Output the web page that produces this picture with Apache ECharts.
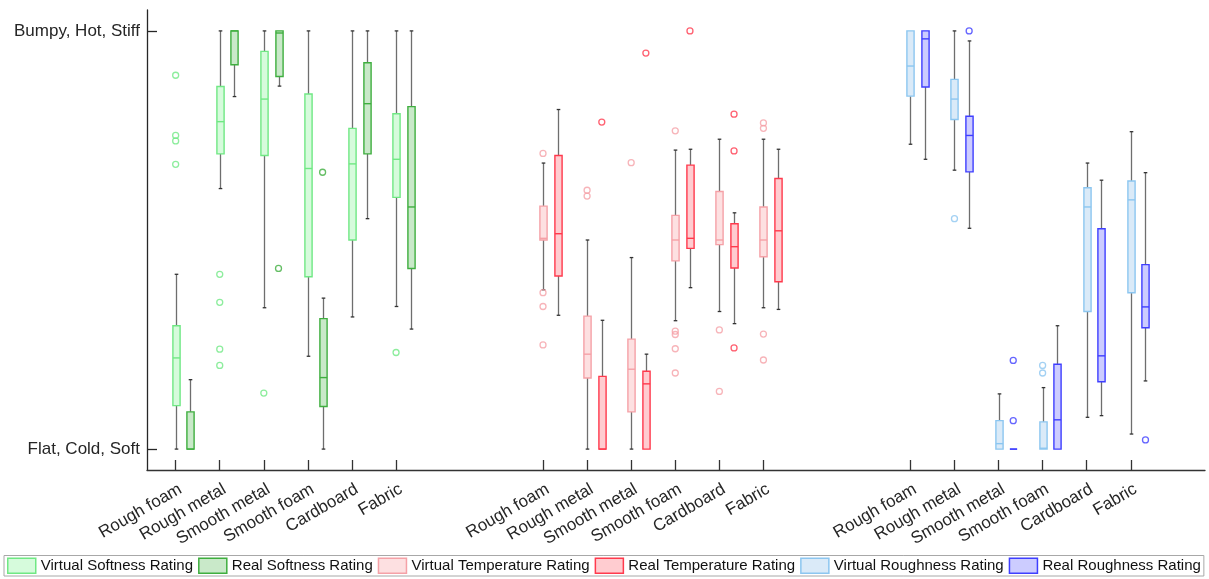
<!DOCTYPE html>
<html><head><meta charset="utf-8">
<script src="https://cdn.jsdelivr.net/npm/echarts@6/dist/echarts.min.js"></script>
<style>html,body{margin:0;padding:0;background:#fff}#c{width:1209px;height:579px}</style>
</head><body><div id="c"></div>
<script>
// ---------- DATA ----------
const materials = ['Rough foam', 'Rough metal', 'Smooth metal', 'Smooth foam', 'Cardboard', 'Fabric'];
const yTickValues = [0, 100];
const yTickLabels = ['Flat, Cold, Soft', 'Bumpy, Hot, Stiff'];
const seriesNames = ['Virtual Softness Rating', 'Real Softness Rating', 'Virtual Temperature Rating',
  'Real Temperature Rating', 'Virtual Roughness Rating', 'Real Roughness Rating'];

// box stats per material: [min, Q1, median, Q3, max]
const virtualSoftness = [
  [0, 10.4, 21.8, 29.5, 41.8],
  [62.3, 70.6, 78.3, 86.7, 100],
  [33.8, 70.2, 83.7, 95.1, 100],
  [22.2, 41.2, 67.1, 84.9, 100],
  [31.6, 50.0, 68.2, 76.7, 100],
  [34.1, 60.2, 69.3, 80.2, 100]
];
const realSoftness = [
  [0, 0, 0, 8.9, 16.6],
  [84.3, 91.9, 100, 100, 100],
  [86.8, 89.1, 99.5, 100, 100],
  [0, 10.2, 17.1, 31.2, 36.1],
  [55.1, 70.6, 82.6, 92.4, 100],
  [28.7, 43.2, 57.9, 81.9, 100]
];
const virtualTemperature = [
  [38.1, 50.0, 50.4, 58.1, 68.4],
  [0, 17.0, 22.7, 31.8, 50.0],
  [0, 8.9, 19.1, 26.3, 45.8],
  [30.7, 45.0, 50.0, 55.9, 71.5],
  [32.9, 48.9, 50.0, 61.6, 74.1],
  [33.8, 46.0, 50.0, 57.9, 74.1]
];
const realTemperature = [
  [32.0, 41.4, 51.5, 70.2, 81.2],
  [0, 0, 0, 17.4, 30.8],
  [0, 0, 15.6, 18.6, 22.7],
  [38.6, 48.0, 50.4, 67.9, 71.7],
  [30.0, 43.3, 48.4, 53.9, 56.5],
  [33.4, 40.0, 52.2, 64.7, 71.7]
];
const virtualRoughness = [
  [72.9, 84.4, 91.6, 100, 100],
  [66.7, 78.8, 83.7, 88.4, 100],
  [0, 0, 1.3, 6.8, 13.2],
  [0, 0, 0.2, 6.5, 14.7],
  [7.6, 32.9, 57.9, 62.5, 68.4],
  [3.6, 37.4, 59.6, 64.1, 75.9]
];
const realRoughness = [
  [69.3, 86.6, 98.1, 100, 100],
  [52.8, 66.3, 75.0, 79.6, 97.6],
  [0, 0, 0, 0, 0],
  [0, 0, 7.0, 20.3, 29.5],
  [8.0, 16.1, 22.3, 52.7, 64.3],
  [16.3, 29.0, 34.0, 44.1, 66.1]
];

// outliers: [material index, value]
const virtualSoftnessOutliers = [[0, 89.4], [0, 75.0], [0, 73.7], [0, 68.1], [1, 41.8], [1, 35.1], [1, 23.9], [1, 20.0], [2, 13.4], [5, 23.1]];
const realSoftnessOutliers = [[2, 43.2], [3, 66.2]];
const virtualTemperatureOutliers = [[0, 70.7], [0, 37.4], [0, 34.1], [0, 24.9], [1, 61.9], [1, 60.5], [2, 68.5],
  [3, 76.1], [3, 28.2], [3, 27.4], [3, 24.0], [3, 18.2], [4, 28.5], [4, 13.8], [5, 78.0], [5, 76.7], [5, 27.5], [5, 21.3]];
const realTemperatureOutliers = [[1, 78.2], [2, 94.7], [3, 100], [4, 80.1], [4, 71.3], [4, 24.2]];
const virtualRoughnessOutliers = [[1, 55.1], [3, 20.0], [3, 18.2]];
const realRoughnessOutliers = [[1, 100], [2, 21.2], [2, 6.8], [5, 2.2]];

// ---------- STYLE / LAYOUT ----------
const fills = ['#d6fbdc', '#c9e9c9', '#fde0e1', '#ffccd0', '#daeaf8', '#ccccff'];
const strokes = ['#70e884', '#3fae3f', '#f5a1a7', '#ff3a4d', '#8cc6f0', '#3f3fff'];
const FONT = "'Liberation Sans', Arial, Helvetica, sans-serif";
const TXT = '#262626';

const GROUP_STEP = 25 / 3;
const groupStart = g => 1 + g * GROUP_STEP;
const realOffset = 1 / 3;
const tickPositions = [];
for (let g = 0; g < 3; g++) for (let j = 0; j < materials.length; j++) tickPositions.push(groupStart(g) + j);
const tickName = v => {
  const g = Math.floor((v - 0.5) / GROUP_STEP);
  return materials[Math.round(v - groupStart(g))];
};
const X_MIN = 0.35, X_MAX = 24.35, LABEL_SHIFT = 0.11;

const seriesDefs = [
  { stats: virtualSoftness, out: virtualSoftnessOutliers, g: 0, real: false },
  { stats: realSoftness, out: realSoftnessOutliers, g: 0, real: true },
  { stats: virtualTemperature, out: virtualTemperatureOutliers, g: 1, real: false },
  { stats: realTemperature, out: realTemperatureOutliers, g: 1, real: true },
  { stats: virtualRoughness, out: virtualRoughnessOutliers, g: 2, real: false },
  { stats: realRoughness, out: realRoughnessOutliers, g: 2, real: true }
];

function ln(x1, y1, x2, y2, style) {
  return { type: 'line', shape: { x1, y1, x2, y2 }, style };
}
function makeRender(fill, stroke) {
  return function (params, api) {
    const x = api.value(0);
    const v = [1, 2, 3, 4, 5].map(i => api.value(i));
    const p = v.map(val => api.coord([x, val]));
    const cx = Math.round(p[0][0]) + 0.5;
    const hw = 3.6, cap = 1.8;
    const wStyle = { stroke: '#6e6e6e', lineWidth: 1.3 };
    const cStyle = { stroke: '#333', lineWidth: 1.3 };
    const ch = [];
    if (v[4] > v[3]) {
      ch.push(ln(cx, p[4][1], cx, p[3][1], wStyle));
      ch.push(ln(cx - cap, p[4][1], cx + cap, p[4][1], cStyle));
    }
    if (v[0] < v[1]) {
      ch.push(ln(cx, p[1][1], cx, p[0][1], wStyle));
      ch.push(ln(cx - cap, p[0][1], cx + cap, p[0][1], cStyle));
    }
    ch.push({ type: 'rect', shape: { x: cx - hw, y: p[3][1], width: 2 * hw, height: p[1][1] - p[3][1] },
      style: { fill, stroke, lineWidth: 1.4 } });
    ch.push(ln(cx - hw, p[2][1], cx + hw, p[2][1], { stroke, lineWidth: 1.4 }));
    return { type: 'group', children: ch };
  };
}

const series = [];
seriesDefs.forEach((d, i) => {
  const xOf = j => groupStart(d.g) + j + (d.real ? realOffset : 0);
  series.push({
    name: seriesNames[i], type: 'custom', silent: true,
    renderItem: makeRender(fills[i], strokes[i]),
    encode: { x: 0, y: [1, 2, 3, 4, 5] },
    data: d.stats.map((s, j) => [xOf(j)].concat(s)),
    z: 2
  });
  series.push({
    name: seriesNames[i], type: 'scatter', silent: true,
    symbol: 'circle', symbolSize: 6,
    itemStyle: { color: 'rgba(255,255,255,0)', borderColor: strokes[i], borderWidth: 1.3 },
    data: d.out.map(o => [xOf(o[0]), o[1]]),
    z: 3
  });
});

const chart = echarts.init(document.getElementById('c'), null, { renderer: 'canvas' });
chart.setOption({
  animation: false,
  backgroundColor: '#fff',
  textStyle: { fontFamily: FONT },
  grid: { left: 147, right: 4, top: 10, bottom: 109, outerBoundsMode: 'none', containLabel: false },
  legend: {
    left: 4, bottom: 3, orient: 'horizontal',
    itemWidth: 28, itemHeight: 15, itemGap: 5,
    padding: [2, 3, 2, 3],
    borderColor: '#a8a8a8', borderWidth: 1,
    selectedMode: false,
    textStyle: { fontSize: 15, color: '#111', fontFamily: FONT },
    data: seriesNames.map((n, i) => ({ name: n, icon: 'rect',
      itemStyle: { color: fills[i], borderColor: strokes[i], borderWidth: 1.5 } }))
  },
  xAxis: [{
    type: 'value', min: X_MIN, max: X_MAX,
    splitLine: { show: false },
    axisLine: { show: true, onZero: false, lineStyle: { color: '#333', width: 1.3 } },
    axisTick: { show: true, inside: true, length: 10, customValues: tickPositions, lineStyle: { color: '#333', width: 1.3 } },
    axisLabel: { show: false }
  }, {
    // label-only axis (same scale, nudged a few px so labels sit like the original)
    type: 'value', position: 'bottom', min: X_MIN - LABEL_SHIFT, max: X_MAX - LABEL_SHIFT,
    splitLine: { show: false }, axisLine: { show: false }, axisTick: { show: false },
    axisLabel: {
      customValues: tickPositions, rotate: 30, margin: 18,
      fontSize: 17, color: TXT, fontFamily: FONT,
      formatter: v => tickName(v)
    }
  }],
  yAxis: {
    type: 'value', min: -5, max: 105,
    splitLine: { show: false },
    axisLine: { show: true, onZero: false, lineStyle: { color: '#262626', width: 1.3 } },
    axisTick: { show: true, inside: true, length: 10, customValues: yTickValues, lineStyle: { color: '#262626', width: 1.3 } },
    axisLabel: {
      customValues: yTickValues, margin: 7, fontSize: 17, color: TXT, fontFamily: FONT,
      formatter: v => yTickLabels[yTickValues.indexOf(v)]
    }
  },
  series
});
</script></body></html>
